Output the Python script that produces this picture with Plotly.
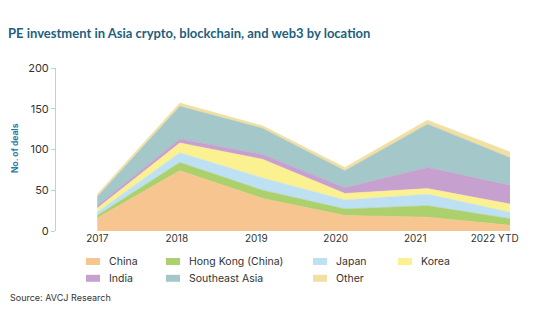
import plotly.graph_objects as go

# ---------------- data ----------------
years = ["2017", "2018", "2019", "2020", "2021", "2022 YTD"]
china = [16, 74, 40, 19, 17, 7]
hong_kong = [3, 10, 10, 8, 14, 8]
japan = [4, 12, 15, 11, 14, 8]
korea = [5, 12, 23, 8, 7, 10]
india = [3, 5, 6, 7, 26, 23]
southeast_asia = [11, 40, 32, 21, 53, 34]
other = [3, 4, 3, 4, 5, 7]

series_names = ["China", "Hong Kong (China)", "Japan", "Korea",
                "India", "Southeast Asia", "Other"]
series_values = [china, hong_kong, japan, korea, india, southeast_asia, other]
colors = ["#f7c690", "#abd06c", "#bde0f3", "#fbf190",
          "#c6a0cf", "#a4c8c9", "#f2dfa2"]

y_ticks = [0, 50, 100, 150, 200]

# ---------------- layout geometry (pixels) ----------------
W, H = 540, 334
L, R, T, B = 56, 30, 68, 103
pw = W - L - R
ph = H - T - B


def px_x(px):
    return (px - L) / pw


def px_y(py):
    return (H - B - py) / ph


x_idx = list(range(len(years)))

fig = go.Figure()
for name, vals, col in zip(series_names, series_values, colors):
    fig.add_trace(go.Scatter(
        x=x_idx, y=vals, name=name, mode="lines",
        stackgroup="one", line=dict(width=0.6, color=col),
        fillcolor=col, showlegend=False, hoverinfo="x+y+name"))

tick_font = dict(family="Inter, Lato, sans-serif", size=10, color="#333333")

fig.update_layout(
    width=W, height=H,
    margin=dict(l=L, r=R, t=T, b=B),
    paper_bgcolor="white", plot_bgcolor="white",
    showlegend=False,
    title=dict(
        text="PE investment in Asia crypto, blockchain, and web3 by location",
        x=8 / W, xref="container", xanchor="left",
        y=1 - 33.5 / H, yref="container", yanchor="middle",
        font=dict(family="Lato, Inter, sans-serif", size=13,
                  color="#1f5f7e", weight="bold")),
    xaxis=dict(
        range=[-0.5, 5.0], showgrid=False, zeroline=False, showline=False,
        tickmode="array", tickvals=[i * 0.963 for i in x_idx], ticktext=years,
        ticks="", tickfont=tick_font, fixedrange=True),
    yaxis=dict(
        range=[0, 200], tickvals=y_ticks, showgrid=False, zeroline=False,
        showline=True, linecolor="#cccccc", linewidth=1,
        ticks="outside", ticklen=4, tickcolor="#cccccc",
        tickfont=dict(family="Inter, Lato, sans-serif", size=11, color="#333333"),
        fixedrange=True),
)

annotations = []
shapes = []

# y-axis title
annotations.append(dict(
    text="<b>No. of deals</b>", x=px_x(15), y=px_y(148), xref="paper", yref="paper",
    textangle=-90, showarrow=False, xanchor="center", yanchor="middle",
    font=dict(family="Inter, Lato, sans-serif", size=8.5, color="#2b7ca3")))

# legend (manual, two rows x four columns)
col_x = [86, 166, 313, 398]
row_y = [261.5, 278.3]
for i, (name, col) in enumerate(zip(series_names, colors)):
    r, c = divmod(i, 4)
    sx, sy = col_x[c], row_y[r]
    shapes.append(dict(type="rect", xref="paper", yref="paper",
                       x0=px_x(sx), x1=px_x(sx + 14),
                       y0=px_y(sy + 3.5), y1=px_y(sy - 3.5),
                       fillcolor=col, line=dict(width=0)))
    annotations.append(dict(
        text=name, x=px_x(sx + 21), y=px_y(sy), xref="paper", yref="paper",
        showarrow=False, xanchor="left", yanchor="middle",
        font=dict(family="Inter, Lato, sans-serif", size=10.5, color="#333333")))

# source
annotations.append(dict(
    text="Source: AVCJ Research", x=px_x(8), y=px_y(297.5),
    xref="paper", yref="paper", showarrow=False,
    xanchor="left", yanchor="middle",
    font=dict(family="Inter, Lato, sans-serif", size=9, color="#333333")))

fig.update_layout(annotations=annotations, shapes=shapes)

fig.write_html("out.html")
